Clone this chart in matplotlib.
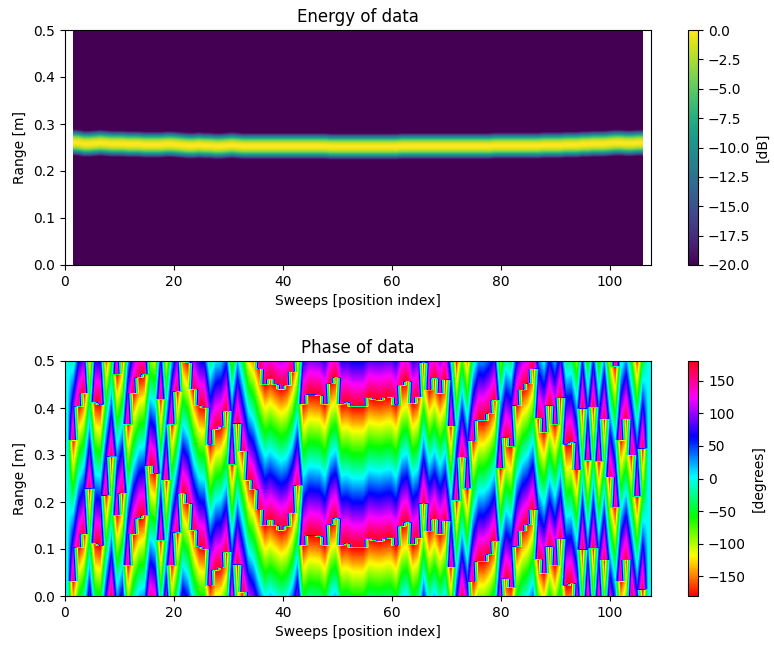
# -*- coding: utf-8 -*-
import numpy as np
import matplotlib
matplotlib.use('Agg')
from matplotlib import pyplot as plt

# range [m] of the phase wrap in each sweep (sweeps 1..105)
wrap_range = [
    0.032, 0.103, 0.132, 0.229, 0.112, 0.107, 0.213, 0.296, 0.172, 0.218,
    0.065, 0.131, 0.165, 0.172, 0.277, 0.260, 0.118, 0.247, 0.065, 0.135,
    0.218, 0.196, 0.140, 0.105, 0.100, 0.021, 0.055, 0.060, 0.094, 0.280,
    0.067, 0.009, 0.247, 0.226, 0.183, 0.150, 0.162, 0.150, 0.140, 0.148,
    0.177, 0.235, 0.108, 0.129, 0.128, 0.126, 0.108, 0.152, 0.165, 0.108,
    0.112, 0.103, 0.103, 0.103, 0.122, 0.119, 0.117, 0.121, 0.123, 0.106,
    0.149, 0.157, 0.110, 0.124, 0.197, 0.138, 0.163, 0.131, 0.160, 0.062,
    0.204, 0.295, 0.228, 0.030, 0.074, 0.074, 0.089, 0.117, 0.272, 0.037,
    0.019, 0.105, 0.138, 0.152, 0.183, 0.079, 0.048, 0.105, 0.065, 0.122,
    0.021, 0.027, 0.268, 0.099, 0.289, 0.101, 0.286, 0.077, 0.254, 0.188,
    0.032, 0.077, 0.300, 0.211, 0.013]

# centre of the bright ridge [m] in each sweep (sweeps 1..105)
ridge_center = [
    0.261, 0.260, 0.258, 0.258, 0.259, 0.260, 0.259, 0.258, 0.258, 0.258,
    0.257, 0.257, 0.257, 0.256, 0.256, 0.256, 0.256, 0.257, 0.257, 0.256,
    0.255, 0.254, 0.254, 0.255, 0.254, 0.254, 0.253, 0.253, 0.254, 0.255,
    0.254, 0.253, 0.253, 0.253, 0.253, 0.253, 0.253, 0.253, 0.253, 0.253,
    0.253, 0.253, 0.253, 0.253, 0.253, 0.253, 0.253, 0.252, 0.252, 0.252,
    0.252, 0.252, 0.252, 0.252, 0.252, 0.252, 0.252, 0.252, 0.252, 0.252,
    0.253, 0.253, 0.253, 0.253, 0.253, 0.253, 0.253, 0.253, 0.253, 0.253,
    0.253, 0.253, 0.253, 0.253, 0.253, 0.253, 0.253, 0.254, 0.254, 0.254,
    0.254, 0.254, 0.254, 0.254, 0.254, 0.254, 0.255, 0.255, 0.255, 0.255,
    0.256, 0.256, 0.256, 0.257, 0.257, 0.258, 0.258, 0.258, 0.259, 0.260,
    0.260, 0.259, 0.259, 0.260, 0.260]

# ridge cross section: distance from the centre [m] and level [dB]
ridge_offset = [0.000, 0.004, 0.008, 0.012, 0.016, 0.020, 0.024, 0.028]
ridge_level = [0.0, -0.4, -1.6, -3.8, -7.0, -11.0, -15.5, -20.0]

phase_period = 0.3  # m
n_range = 300
n_sweep = 108
sweep_step = 1.0028
x_max = 107.5
r_end = 0.5

rng = (np.arange(n_range) + 0.5) / n_range * r_end
extent = (0, n_sweep * sweep_step, 0, r_end)

# padded sweeps at both ends have no signal
energy = np.full((n_range, n_sweep), np.nan)
phase = np.zeros((n_range, n_sweep))
for i in range(105):
    d = np.abs(rng - ridge_center[i])
    energy[:, i + 1] = np.interp(d, ridge_offset, ridge_level, right=-20)
    p = -180 - (rng - wrap_range[i]) * 360 / phase_period
    phase[:, i + 1] = (p + 180) % 360 - 180

W, H = 774, 648
fig = plt.figure(figsize=(W / 100, H / 100), dpi=100)


def axes_px(x0, y0, x1, y1):
    return fig.add_axes([x0 / W, 1 - y1 / H, (x1 - x0) / W, (y1 - y0) / H])


ax1 = axes_px(64.7, 30, 651, 265)
cax1 = axes_px(687.7, 30, 698.3, 265)
ax2 = axes_px(64.7, 361, 651, 596)
cax2 = axes_px(687.7, 361, 698.3, 596)

im1 = ax1.imshow(energy, origin='lower', aspect='auto', cmap='viridis', vmin=-20, vmax=0,
                 extent=extent, interpolation='bilinear', interpolation_stage='data')
ax1.set_xlim(0, x_max)
ax1.set_title('Energy of data')
ax1.set_xlabel('Sweeps [position index]')
ax1.set_ylabel('Range [m]')
cb1 = fig.colorbar(im1, cax=cax1)
cb1.set_label('[dB]')

im2 = ax2.imshow(phase, origin='lower', aspect='auto', cmap='hsv', vmin=-180, vmax=180,
                 extent=extent, interpolation='bilinear', interpolation_stage='data')
ax2.set_xlim(0, x_max)
ax2.set_title('Phase of data')
ax2.set_xlabel('Sweeps [position index]')
ax2.set_ylabel('Range [m]')
cb2 = fig.colorbar(im2, cax=cax2)
cb2.set_label('[degrees]')

fig.savefig('out.png', dpi=100)
